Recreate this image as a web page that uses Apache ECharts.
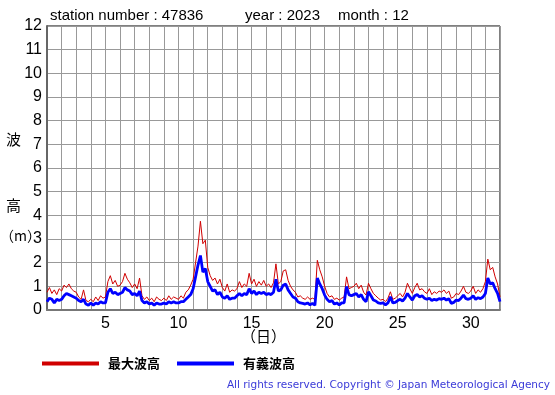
<!DOCTYPE html>
<html><head><meta charset="utf-8">
<script src="https://cdn.jsdelivr.net/npm/echarts@6/dist/echarts.min.js"></script>
<style>html,body{margin:0;padding:0;background:#fff}#c{width:555px;height:395px}</style>
</head><body><div id="c"></div>
<script>
// values every 4 hours, day 1 00h .. day 32 00h
const maxWave = [
 0.75,0.95,0.7,0.85,0.65,0.9,
 0.8,1.05,0.95,1.1,0.9,0.8,
 0.75,0.55,0.45,0.85,0.4,0.35,
 0.45,0.35,0.55,0.4,0.6,0.5,
 0.55,1.2,1.45,1.1,1.25,1.0,
 1.05,1.2,1.55,1.3,1.15,0.95,
 1.1,0.9,1.35,0.6,0.45,0.55,
 0.4,0.5,0.35,0.55,0.45,0.4,
 0.5,0.4,0.6,0.45,0.55,0.5,
 0.45,0.6,0.5,0.75,0.85,1.05,
 1.3,2.0,2.7,3.75,2.8,2.95,
 1.8,1.45,1.25,1.35,1.1,1.3,
 0.95,0.8,1.1,0.75,0.85,0.8,
 0.9,1.2,0.95,1.1,1.0,1.55,
 1.1,1.3,1.0,1.2,1.05,1.25,
 1.0,1.1,0.95,1.15,1.95,1.1,
 1.2,1.65,1.7,1.25,1.0,0.85,
 0.75,0.55,0.6,0.5,0.45,0.55,
 0.45,0.5,0.45,2.1,1.7,1.4,
 1.0,0.7,0.55,0.6,0.45,0.5,
 0.42,0.5,0.55,1.4,0.9,0.95,
 1.0,1.13,0.9,1.05,0.75,0.63,
 1.13,0.9,0.7,0.6,0.5,0.42,
 0.45,0.35,0.5,0.77,0.45,0.5,
 0.6,0.7,0.55,0.75,1.13,0.9,
 0.7,0.95,1.13,0.85,0.9,0.77,
 0.7,0.9,0.65,0.77,0.7,0.8,
 0.75,0.85,0.7,0.8,0.5,0.55,
 0.7,0.65,0.8,1.0,0.75,0.7,
 0.8,1.0,0.7,0.85,0.75,0.9,
 1.2,2.15,1.7,1.8,1.4,1.1,
 0.55
];
const sigWave = [
 0.35,0.5,0.45,0.3,0.45,0.4,
 0.45,0.6,0.7,0.65,0.6,0.55,
 0.5,0.4,0.35,0.45,0.25,0.2,
 0.3,0.2,0.3,0.25,0.35,0.3,
 0.3,0.75,0.9,0.7,0.75,0.65,
 0.7,0.75,0.95,0.85,0.8,0.65,
 0.7,0.6,0.8,0.4,0.3,0.35,
 0.25,0.3,0.2,0.3,0.25,0.25,
 0.3,0.25,0.35,0.3,0.35,0.3,
 0.3,0.35,0.35,0.45,0.55,0.65,
 0.9,1.4,1.9,2.3,1.6,1.75,
 1.2,1.0,0.8,0.85,0.65,0.75,
 0.55,0.5,0.6,0.45,0.5,0.5,
 0.6,0.7,0.6,0.7,0.65,0.9,
 0.7,0.8,0.65,0.75,0.7,0.75,
 0.65,0.7,0.65,0.75,1.3,0.8,
 0.85,1.05,1.1,0.85,0.7,0.55,
 0.5,0.35,0.3,0.28,0.25,0.3,
 0.22,0.28,0.2,1.35,1.1,0.9,
 0.63,0.45,0.35,0.4,0.25,0.3,
 0.21,0.3,0.3,0.99,0.65,0.6,
 0.65,0.7,0.55,0.65,0.45,0.35,
 0.77,0.6,0.42,0.38,0.3,0.28,
 0.3,0.22,0.3,0.56,0.3,0.32,
 0.4,0.45,0.38,0.5,0.7,0.55,
 0.42,0.6,0.65,0.55,0.6,0.5,
 0.45,0.5,0.4,0.45,0.42,0.48,
 0.45,0.5,0.42,0.48,0.28,0.32,
 0.42,0.4,0.5,0.63,0.48,0.45,
 0.5,0.6,0.45,0.52,0.48,0.55,
 0.7,1.35,1.1,1.15,0.9,0.7,
 0.35
];
const seriesNames = ['最大波高','有義波高'];
const xTickLabels = [5,10,15,20,25,30];
const yTicks = [0,1,2,3,4,5,6,7,8,9,10,11,12];
const stepPerDay = 6;
const toPairs = arr => arr.map((v,i)=>[1 + i/stepPerDay, v]);

const chart = echarts.init(document.getElementById('c'), null, {renderer:'canvas'});
const F = 'Liberation Sans, Arial, sans-serif';
chart.setOption({
  animation:false,
  backgroundColor:'#fff',
  grid:{left:47,right:55,top:26,bottom:85,show:true,borderColor:'#000',borderWidth:1},
  xAxis:{type:'value',min:1,max:32,interval:1,
    axisLine:{show:true,onZero:false,lineStyle:{color:'#777',width:2}},
    axisTick:{show:false},
    splitLine:{show:true,lineStyle:{color:'#999',width:1}},
    axisLabel:{color:'#000',fontSize:16,fontFamily:F,margin:6,
      formatter:v=> xTickLabels.includes(v)? String(v):''}
  },
  yAxis:{type:'value',min:0,max:12,interval:1,
    axisLine:{show:true,lineStyle:{color:'#666',width:2}},
    axisTick:{show:false},
    splitLine:{show:true,lineStyle:{color:'#999',width:1}},
    axisLabel:{color:'#000',fontSize:16,fontFamily:F,margin:5,
      formatter:v=> yTicks.includes(v)? String(v):''}
  },
  legend:{left:42,top:357,padding:0,icon:'rect',itemWidth:57,itemHeight:4,itemGap:17,
    textStyle:{fontSize:13,fontWeight:'bold',color:'#000',fontFamily:'Noto Sans CJK JP',padding:[0,0,0,4]},
    data:seriesNames},
  series:[
    {name:seriesNames[0],type:'line',data:toPairs(maxWave),showSymbol:false,
     lineStyle:{color:'#d00000',width:1},itemStyle:{color:'#d00000'},z:2},
    {name:seriesNames[1],type:'line',data:toPairs(sigWave),showSymbol:false,
     lineStyle:{color:'#0000ff',width:2.8},itemStyle:{color:'#0000ff'},z:3}
  ],
  graphic:[
    {type:'text',left:50,top:8,style:{text:'station number : 47836',fontSize:15,fontFamily:F,fill:'#000'}},
    {type:'text',left:245,top:8,style:{text:'year : 2023',fontSize:15,fontFamily:F,fill:'#000'}},
    {type:'text',left:338,top:8,style:{text:'month : 12',fontSize:15,fontFamily:F,fill:'#000'}},
    {type:'text',left:6,top:132,style:{text:'波',fontSize:15,fontFamily:'Noto Sans CJK JP',fill:'#000'}},
    {type:'text',left:6,top:198,style:{text:'高',fontSize:15,fontFamily:'Noto Sans CJK JP',fill:'#000'}},
    {type:'text',left:0,top:229,style:{text:'（m）',fontSize:14,fontFamily:'Noto Sans CJK JP',fill:'#000'}},
    {type:'text',left:241,top:329,style:{text:'（日）',fontSize:15,fontFamily:'Noto Sans CJK JP',fill:'#000'}},
    {type:'text',right:5,top:380,style:{text:'All rights reserved. Copyright © Japan Meteorological Agency',fontSize:10.5,fontFamily:'DejaVu Sans',fill:'#3a3ad8'}}
  ]
});
</script></body></html>
